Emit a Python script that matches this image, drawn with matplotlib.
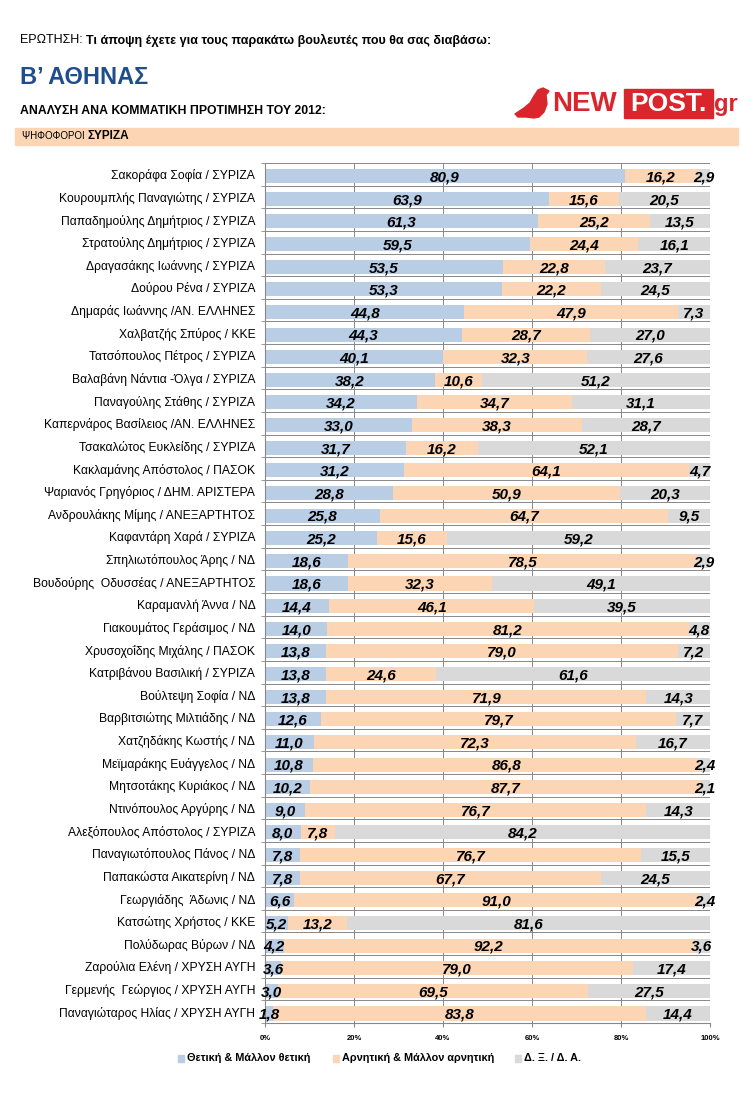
import matplotlib.pyplot as plt
from matplotlib.patches import Rectangle, Polygon
import numpy as np

NAMES = [
    "Σακοράφα Σοφία / ΣΥΡΙΖΑ",
    "Κουρουμπλής Παναγιώτης / ΣΥΡΙΖΑ",
    "Παπαδημούλης Δημήτριος / ΣΥΡΙΖΑ",
    "Στρατούλης Δημήτριος / ΣΥΡΙΖΑ",
    "Δραγασάκης Ιωάννης / ΣΥΡΙΖΑ",
    "Δούρου Ρένα / ΣΥΡΙΖΑ",
    "Δημαράς Ιωάννης /ΑΝ. ΕΛΛΗΝΕΣ",
    "Χαλβατζής Σπύρος / ΚΚΕ",
    "Τατσόπουλος Πέτρος / ΣΥΡΙΖΑ",
    "Βαλαβάνη Νάντια -Όλγα / ΣΥΡΙΖΑ",
    "Παναγούλης Στάθης / ΣΥΡΙΖΑ",
    "Καπερνάρος Βασίλειος /ΑΝ. ΕΛΛΗΝΕΣ",
    "Τσακαλώτος Ευκλείδης / ΣΥΡΙΖΑ",
    "Κακλαμάνης Απόστολος / ΠΑΣΟΚ",
    "Ψαριανός Γρηγόριος / ΔΗΜ. ΑΡΙΣΤΕΡΑ",
    "Ανδρουλάκης Μίμης / ΑΝΕΞΑΡΤΗΤΟΣ",
    "Καφαντάρη Χαρά / ΣΥΡΙΖΑ",
    "Σπηλιωτόπουλος Άρης / ΝΔ",
    "Βουδούρης  Οδυσσέας / ΑΝΕΞΑΡΤΗΤΟΣ",
    "Καραμανλή Άννα / ΝΔ",
    "Γιακουμάτος Γεράσιμος / ΝΔ",
    "Χρυσοχοΐδης Μιχάλης / ΠΑΣΟΚ",
    "Κατριβάνου Βασιλική / ΣΥΡΙΖΑ",
    "Βούλτεψη Σοφία / ΝΔ",
    "Βαρβιτσιώτης Μιλτιάδης / ΝΔ",
    "Χατζηδάκης Κωστής / ΝΔ",
    "Μεϊμαράκης Ευάγγελος / ΝΔ",
    "Μητσοτάκης Κυριάκος / ΝΔ",
    "Ντινόπουλος Αργύρης / ΝΔ",
    "Αλεξόπουλος Απόστολος / ΣΥΡΙΖΑ",
    "Παναγιωτόπουλος Πάνος / ΝΔ",
    "Παπακώστα Αικατερίνη / ΝΔ",
    "Γεωργιάδης  Άδωνις / ΝΔ",
    "Κατσώτης Χρήστος / ΚΚΕ",
    "Πολύδωρας Βύρων / ΝΔ",
    "Ζαρούλια Ελένη / ΧΡΥΣΗ ΑΥΓΗ",
    "Γερμενής  Γεώργιος / ΧΡΥΣΗ ΑΥΓΗ",
    "Παναγιώταρος Ηλίας / ΧΡΥΣΗ ΑΥΓΗ",
]
POSITIVE = [80.9, 63.9, 61.3, 59.5, 53.5, 53.3, 44.8, 44.3, 40.1, 38.2,
            34.2, 33.0, 31.7, 31.2, 28.8, 25.8, 25.2, 18.6, 18.6, 14.4,
            14.0, 13.8, 13.8, 13.8, 12.6, 11.0, 10.8, 10.2, 9.0, 8.0,
            7.8, 7.8, 6.6, 5.2, 4.2, 3.6, 3.0, 1.8]
NEGATIVE = [16.2, 15.6, 25.2, 24.4, 22.8, 22.2, 47.9, 28.7, 32.3, 10.6,
            34.7, 38.3, 16.2, 64.1, 50.9, 64.7, 15.6, 78.5, 32.3, 46.1,
            81.2, 79.0, 24.6, 71.9, 79.7, 72.3, 86.8, 87.7, 76.7, 7.8,
            76.7, 67.7, 91.0, 13.2, 92.2, 79.0, 69.5, 83.8]
DONT_KNOW = [2.9, 20.5, 13.5, 16.1, 23.7, 24.5, 7.3, 27.0, 27.6, 51.2,
             31.1, 28.7, 52.1, 4.7, 20.3, 9.5, 59.2, 2.9, 49.1, 39.5,
             4.8, 7.2, 61.6, 14.3, 7.7, 16.7, 2.4, 2.1, 14.3, 84.2,
             15.5, 24.5, 2.4, 81.6, 3.6, 17.4, 27.5, 14.4]
SERIES_LABELS = ["Θετική & Μάλλον θετική", "Αρνητική & Μάλλον αρνητική", "Δ. Ξ. / Δ. Α."]
COLOURS = ["#b9cde5", "#fcd5b5", "#d9d9d9"]
RED = "#d9262c"

plt.rcParams['font.family'] = ['Liberation Sans', 'DejaVu Sans']

W, H = 753, 1101


def fx(px):
    return px / W


def fy(py):
    return 1 - py / H


fig = plt.figure(figsize=(7.53, 11.01), dpi=100)
ax = fig.add_axes([fx(265), fy(1023), 445 / W, (1023 - 163) / H])

y = np.arange(len(NAMES))
left = np.zeros(len(NAMES))
for vals, col in zip([POSITIVE, NEGATIVE, DONT_KNOW], COLOURS):
    vals = np.asarray(vals)
    ax.barh(y + 0.08, vals, left=left, height=0.62, color=col, zorder=2)
    for yi, l, v in zip(y, left, vals):
        ax.text(l + v / 2, yi + 0.14, f"{v:.1f}".replace(".", ","), ha="center", va="center",
                fontsize=11, fontweight="bold", fontstyle="italic", zorder=3)
    left = left + vals

ax.set_xlim(0, 100)
ax.set_ylim(len(NAMES) - 0.5, -0.5)
ax.set_xticks(np.arange(0, 101, 20))
ax.set_xticklabels([f"{t}%" for t in range(0, 101, 20)], fontsize=5.5, fontweight="bold")
ax.set_yticks(y)
ax.set_yticklabels(NAMES, fontsize=8.7)
ax.set_yticks(np.arange(len(NAMES) + 1) - 0.5, minor=True)
ax.tick_params(axis="y", which="major", length=0, pad=7)
ax.tick_params(axis="y", which="minor", length=3, color="#888888")
ax.tick_params(axis="x", length=3, color="#888888", pad=6)
ax.grid(axis="x", color="#888888", linewidth=0.7, zorder=0)
ax.grid(axis="y", which="minor", color="#888888", linewidth=0.7, zorder=0)
ax.spines[["top", "right"]].set_visible(False)
ax.spines["left"].set_color("#888888")
ax.spines["bottom"].set_color("#888888")

# header texts
t1 = fig.text(fx(20), fy(40), "ΕΡΩΤΗΣΗ: ", fontsize=9, va="center")
fig.add_artist(plt.Annotation("Τι άποψη έχετε για τους παρακάτω βουλευτές που θα σας διαβάσω:",
                              xy=(1, 0.5), xycoords=t1, va="center", ha="left",
                              fontsize=9, fontweight="bold"))
fig.text(fx(20), fy(78), "Β’ ΑΘΗΝΑΣ", fontsize=17, fontweight="bold", color="#1f4e8c", va="center")
fig.text(fx(20), fy(111), "ΑΝΑΛΥΣΗ ΑΝΑ ΚΟΜΜΑΤΙΚΗ ΠΡΟΤΙΜΗΣΗ ΤΟΥ 2012:", fontsize=8.8,
         fontweight="bold", va="center")
fig.patches.append(Rectangle((fx(15), fy(145)), 723 / W, 17 / H,
                             transform=fig.transFigure, color="#fcd5b5", zorder=0))
t2 = fig.text(fx(22), fy(136), "ΨΗΦΟΦΟΡΟΙ ", fontsize=7, va="center")
fig.add_artist(plt.Annotation("ΣΥΡΙΖΑ", xy=(1, 0.5), xycoords=t2, va="center", ha="left",
                              fontsize=8.5, fontweight="bold"))

# logo
bird = [(515, 114), (524, 108), (530, 103), (534, 96), (538, 90), (543, 88), (549, 91),
        (546, 95), (547, 104), (544, 112), (539, 117), (534, 118), (526, 117), (518, 117)]
fig.patches.append(Polygon([(fx(px), fy(py)) for px, py in bird], closed=True,
                           transform=fig.transFigure, color=RED))
fig.text(fx(552), fy(104), "NEW", fontsize=20, fontweight="bold", color=RED, va="center")
fig.patches.append(Rectangle((fx(624), fy(118)), 89 / W, 29 / H,
                             transform=fig.transFigure, color=RED, zorder=0))
fig.text(fx(668), fy(104), "POST.", fontsize=19, fontweight="bold", color="white",
         va="center", ha="center")
fig.text(fx(714), fy(104), "gr", fontsize=17, fontweight="bold", color=RED, va="center")

# legend
leg_x = [178, 333, 515]
for lx, lab, col in zip(leg_x, SERIES_LABELS, COLOURS):
    fig.patches.append(Rectangle((fx(lx), fy(1062)), 6 / W, 7 / H,
                                 transform=fig.transFigure, color=col))
    fig.text(fx(lx + 9), fy(1058), lab, fontsize=7.8, fontweight="bold", va="center")

fig.savefig("out.png", dpi=100)
